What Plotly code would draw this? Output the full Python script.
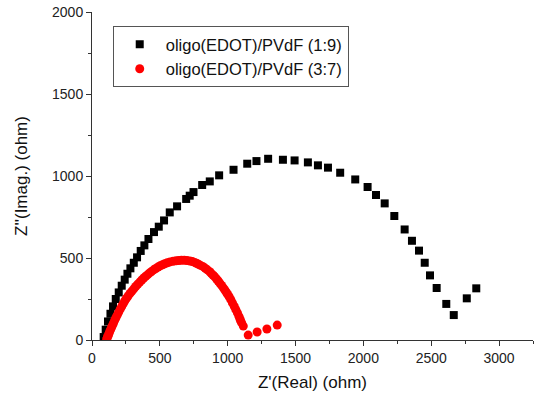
import plotly.graph_objects as go

# Series 1: oligo(EDOT)/PVdF (1:9)
s1_name = "oligo(EDOT)/PVdF (1:9)"
s1_x = [86, 101, 118, 136, 155, 175, 197, 219, 241, 261, 283, 308, 332, 359, 386, 416,
        457, 492, 531, 573, 627, 694, 720, 748, 812, 868, 937, 1043, 1144, 1212, 1298,
        1407, 1493, 1591, 1665, 1739, 1829, 1940, 2031, 2093, 2157, 2228, 2304, 2358,
        2410, 2452, 2491, 2540, 2611, 2666, 2762, 2832]
s1_y = [18, 63, 113, 160, 205, 250, 290, 331, 368, 404, 437, 471, 504, 543, 577, 616,
        658, 691, 729, 778, 815, 860, 880, 902, 945, 967, 1004, 1038, 1075, 1091, 1105,
        1099, 1095, 1083, 1065, 1051, 1020, 979, 933, 884, 833, 756, 674, 605,
        545, 471, 394, 317, 220, 152, 254, 315]

# Series 2: oligo(EDOT)/PVdF (3:7)
s2_name = "oligo(EDOT)/PVdF (3:7)"
s2_x = [108, 113, 118, 123, 130, 136, 143, 150, 158, 167, 176, 186, 197, 208, 219, 229,
        241, 253, 266, 280, 294, 308, 322, 337, 352, 367, 381, 396, 411, 425, 438, 455,
        470, 487, 503, 520, 536, 555, 575, 598, 620, 640, 659, 680, 700, 721, 740, 756,
        770, 785, 800, 819, 835, 850, 868, 880, 893, 905, 918, 930, 942, 955, 968, 979,
        990, 1000, 1011, 1023, 1035, 1048, 1060, 1072, 1082, 1090, 1095, 1103, 1115,
        1151, 1217, 1289, 1365]
s2_y = [5, 15, 25, 35, 50, 62, 75, 88, 102, 120, 136, 152, 170, 188, 205, 220,
        238, 253, 268, 284, 298, 312, 326, 340, 353, 366, 378, 389, 399, 409, 417, 428,
        436, 445, 453, 459, 465, 471, 476, 480, 483, 485, 486, 486, 484, 482, 478, 473,
        468, 462, 455, 447, 437, 428, 416, 405, 395, 385, 372, 360, 347, 333, 318, 305,
        291, 278, 264, 246, 226, 206, 185, 165, 146, 130, 118, 104, 85,
        30, 49, 67, 91]

x_title = "Z'(Real) (ohm)"
y_title = "Z''(Imag.) (ohm)"

font_family = "Arial, Liberation Sans, sans-serif"

fig = go.Figure()
fig.add_trace(go.Scatter(x=s1_x, y=s1_y, mode="markers", name=s1_name,
                         marker=dict(symbol="square", size=8, color="black")))
fig.add_trace(go.Scatter(x=s2_x, y=s2_y, mode="markers", name=s2_name,
                         marker=dict(symbol="circle", size=9, color="#ff0000")))

axis_common = dict(
    showline=True, linecolor="#333333", linewidth=1,
    ticks="outside", ticklen=5, tickcolor="#333333", tickwidth=1,
    showgrid=False, zeroline=False, mirror=False,
    tickfont=dict(family=font_family, size=14, color="#222222"),
    minor=dict(ticks="outside", ticklen=3, tickcolor="#333333", dtick=250, showgrid=False),
    dtick=500,
)

fig.update_xaxes(range=[0, 3250], title=dict(text=x_title, font=dict(family=font_family, size=17, color="#111111"), standoff=11),
                 **axis_common)
fig.update_yaxes(range=[0, 2000], title=dict(text=y_title, font=dict(family=font_family, size=17, color="#111111"), standoff=20),
                 **axis_common)

fig.update_layout(
    width=536, height=397,
    margin=dict(l=92, r=3, t=12, b=57),
    paper_bgcolor="white", plot_bgcolor="white",
    showlegend=True,
    legend=dict(x=0.047, y=0.957, xanchor="left", yanchor="top",
                bordercolor="#555555", borderwidth=1, bgcolor="white",
                font=dict(family=font_family, size=16.5, color="#111111"),
                tracegroupgap=0, itemsizing="trace", itemwidth=42),
    font=dict(family=font_family),
)

fig.write_html("out.html", config={"displayModeBar": False},
               post_script="document.body.style.margin='0';document.body.style.overflow='hidden';")
